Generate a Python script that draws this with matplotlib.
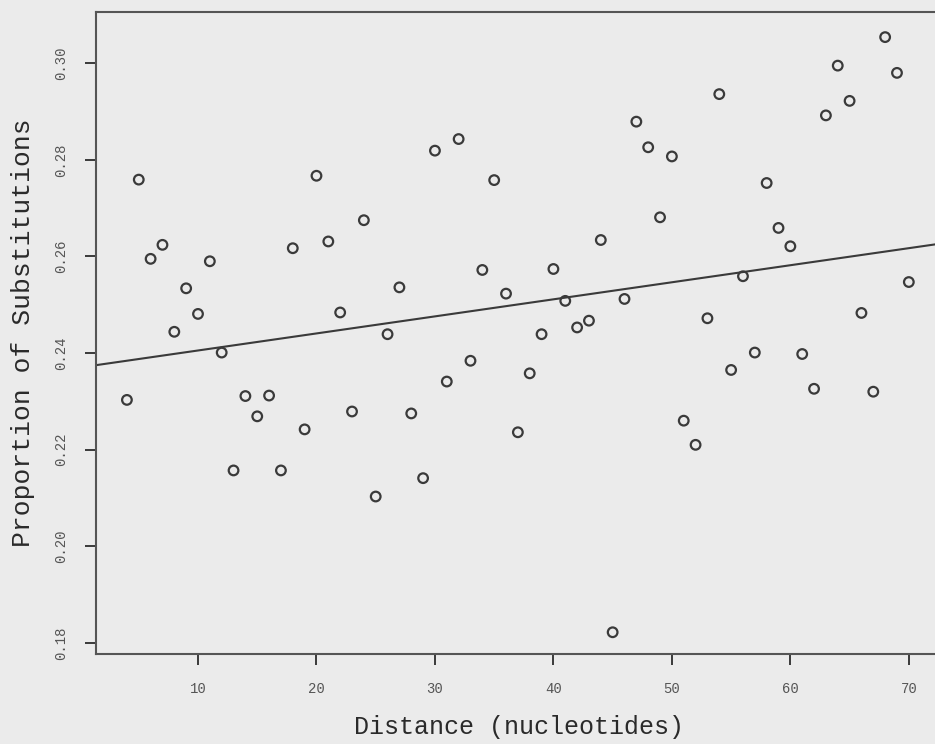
import numpy as np
import matplotlib
matplotlib.use("Agg")
import matplotlib.pyplot as plt

# distance in nucleotides and proportion of substitutions
distance = list(range(4, 71))
proportion = [
    0.2303, 0.2759, 0.2595, 0.2624, 0.2444, 0.2534, 0.2481, 0.2590, 0.2401, 0.2157,
    0.2311, 0.2269, 0.2312, 0.2157, 0.2617, 0.2242, 0.2767, 0.2631, 0.2484, 0.2279,
    0.2675, 0.2103, 0.2439, 0.2536, 0.2275, 0.2141, 0.2819, 0.2341, 0.2843, 0.2384,
    0.2572, 0.2758, 0.2523, 0.2236, 0.2358, 0.2439, 0.2574, 0.2508, 0.2453, 0.2467,
    0.2634, 0.1822, 0.2512, 0.2879, 0.2826, 0.2681, 0.2807, 0.2260, 0.2210, 0.2472,
    0.2936, 0.2365, 0.2559, 0.2401, 0.2752, 0.2659, 0.2621, 0.2398, 0.2326, 0.2892,
    0.2995, 0.2922, 0.2483, 0.2320, 0.3054, 0.2980, 0.2547,
]
# fitted line as drawn in the original
fit_intercept = 0.2370
fit_slope = 0.000353

xticks = [10, 20, 30, 40, 50, 60, 70]
yticks = [0.18, 0.20, 0.22, 0.24, 0.26, 0.28, 0.30]

bg = "#ebebeb"
ink = "#3a3a3a"
mono = ["Liberation Mono", "DejaVu Sans Mono"]

fig = plt.figure(figsize=(9.35, 7.44), dpi=100, facecolor=bg)
ax = fig.add_axes([96 / 935, 1 - 654 / 744, (942 - 96) / 935, (654 - 12) / 744])
ax.set_facecolor(bg)

ax.scatter(distance, proportion, s=48, facecolors="none", edgecolors=ink,
           linewidths=1.6, zorder=3)

xs = np.array([0, 80])
ax.plot(xs, fit_intercept + fit_slope * xs, color="#3a3a3a", lw=1.5, zorder=2)

ax.set_xlim(1.39, 72.8)
ax.set_ylim(0.1777, 0.3106)
ax.set_xticks(xticks)
ax.set_yticks(yticks)
ax.set_xticklabels([str(t) for t in xticks], family=mono, fontsize=10, color="#555555")
ax.set_yticklabels([f"{t:.2f}" for t in yticks], family=mono, fontsize=10,
                   color="#555555", rotation=90, va="center")
ax.tick_params(axis="both", direction="out", length=8, width=1.4, color=ink)
ax.tick_params(axis="x", pad=12)
ax.tick_params(axis="y", pad=12)

for side in ["left", "bottom", "top", "right"]:
    ax.spines[side].set_color("#555555")
    ax.spines[side].set_linewidth(1.5)

ax.set_xlabel("Distance (nucleotides)", family=mono, fontsize=18, color="#2a2a2a",
              labelpad=14)
ax.set_ylabel("Proportion of Substitutions", family=mono, fontsize=19, color="#2a2a2a",
              labelpad=14)

fig.savefig("out.png", dpi=100, facecolor=bg)
